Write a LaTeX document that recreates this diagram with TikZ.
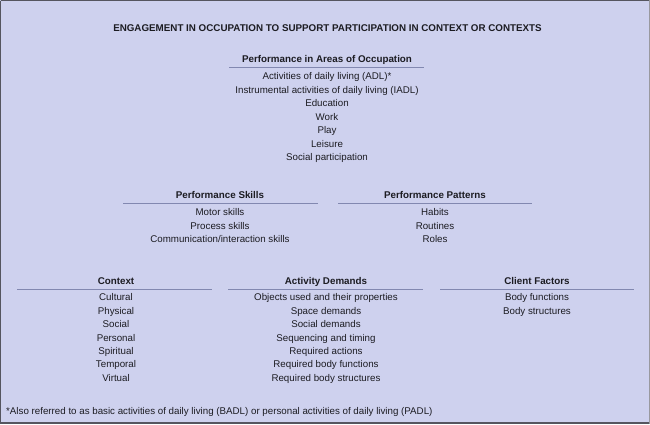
\documentclass[tikz,border=0pt]{standalone}
\usepackage{fontspec}
\setmainfont{Liberation Sans}
\definecolor{bgc}{HTML}{CED1EE}
\definecolor{rulec}{HTML}{8288B0}
\definecolor{txtc}{HTML}{1C1C22}
\definecolor{framec}{HTML}{55555F}
\begin{document}
\begin{tikzpicture}[x=1pt,y=-1pt,
  every node/.style={inner sep=0pt,text=txtc,text height=7pt,text depth=2pt,font=\fontsize{9.75}{10}\selectfont},
  head/.style={font=\fontsize{9.8}{10}\selectfont\bfseries},
  item/.style={},
  rulel/.style={draw=rulec,line width=1.3pt}]
\useasboundingbox (0,0) rectangle (650,424);
\fill[bgc] (0,0) rectangle (650,424);
\draw[framec,line width=1pt] (0.5,0.5) -- (0.5,423) (0.5,0.5) -- (650,0.5);
\draw[framec,line width=2pt] (0,423) -- (650,423);
\draw[framec!60,line width=1pt] (649.5,0) -- (649.5,424);
\node[head] (title) at (327.5,28.5) {ENGAGEMENT IN OCCUPATION TO SUPPORT PARTICIPATION IN CONTEXT OR CONTEXTS};
% Areas of occupation
\node[head] (pa) at (327,59.5) {Performance in Areas of Occupation};
\draw[rulel] (229,67.5) -- (424,67.5);
\foreach \t [count=\i] in {Activities of daily living (ADL)*,Instrumental activities of daily living (IADL),Education,Work,Play,Leisure,Social participation}
  \node[item] (pa\i) at (327,{63.5+13.5*\i}) {\t};
% Skills
\node[head] (ps) at (220,195.5) {Performance Skills};
\draw[rulel] (123,203.5) -- (318,203.5);
\foreach \t [count=\i] in {Motor skills,Process skills,Communication/interaction skills}
  \node[item] (ps\i) at (220,{199.5+13.5*\i}) {\t};
% Patterns
\node[head] (pp) at (435,195.5) {Performance Patterns};
\draw[rulel] (338,203.5) -- (532,203.5);
\foreach \t [count=\i] in {Habits,Routines,Roles}
  \node[item] (pp\i) at (435,{199.5+13.5*\i}) {\t};
% Context
\node[head] (cx) at (116,281.5) {Context};
\draw[rulel] (17,289.5) -- (212,289.5);
\foreach \t [count=\i] in {Cultural,Physical,Social,Personal,Spiritual,Temporal,Virtual}
  \node[item] (cx\i) at (116,{285+13.4*\i}) {\t};
% Activity demands
\node[head] (ad) at (326,281.5) {Activity Demands};
\draw[rulel] (228,289.5) -- (423,289.5);
\foreach \t [count=\i] in {Objects used and their properties,Space demands,Social demands,Sequencing and timing,Required actions,Required body functions,Required body structures}
  \node[item] (ad\i) at (326,{285+13.4*\i}) {\t};
% Client factors
\node[head] (cf) at (537,281.5) {Client Factors};
\draw[rulel] (440,289.5) -- (634,289.5);
\foreach \t [count=\i] in {Body functions,Body structures}
  \node[item] (cf\i) at (537,{285+13.4*\i}) {\t};
\node[anchor=west] (fn) at (6,412) {*Also referred to as basic activities of daily living (BADL) or personal activities of daily living (PADL)};
\end{tikzpicture}
\end{document}
